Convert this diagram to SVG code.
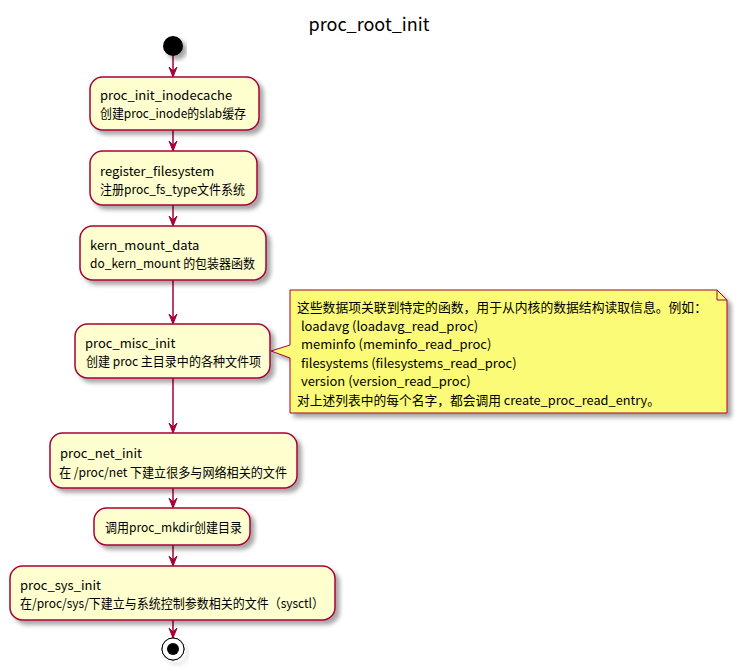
<svg xmlns="http://www.w3.org/2000/svg" width="738" height="672" viewBox="0 0 738 672">
<style>
  text { font-family: "Noto Sans CJK SC", "Noto Sans", sans-serif; font-size: 13px; fill: #000; }
  .title { font-size: 18px; }
  .act { fill: #FEFECE; stroke: #A80036; stroke-width: 1.5; filter: url(#shadow); }
  .note { fill: #FBFB77; stroke: #A80036; stroke-width: 1; filter: url(#shadow); }
  .edge { stroke: #A80036; stroke-width: 1.5; fill: none; }
  .head { fill: #A80036; stroke: #A80036; stroke-width: 1; }
</style>
<defs>
  <filter id="shadow" x="-10%" y="-10%" width="130%" height="140%">
    <feGaussianBlur in="SourceAlpha" stdDeviation="2"/>
    <feOffset dx="4" dy="4" result="b"/>
    <feColorMatrix in="b" type="matrix" values="0 0 0 0 0  0 0 0 0 0  0 0 0 0 0  0 0 0 0.35 0" result="s"/>
    <feMerge><feMergeNode in="s"/><feMergeNode in="SourceGraphic"/></feMerge>
  </filter>
</defs>
<rect width="738" height="672" fill="#FFFFFF"/>
<text class="title" x="369" y="31" text-anchor="middle">proc_root_init</text>

<g id="connectors">
  <line class="edge" x1="173" y1="56" x2="173" y2="76"/>
  <polygon class="head" points="169,67 173,77 177,67 173,71"/>
  <line class="edge" x1="173" y1="130" x2="173" y2="150"/>
  <polygon class="head" points="169,141 173,151 177,141 173,145"/>
  <line class="edge" x1="173" y1="205" x2="173" y2="225"/>
  <polygon class="head" points="169,216 173,226 177,216 173,220"/>
  <line class="edge" x1="173" y1="280" x2="173" y2="323"/>
  <polygon class="head" points="169,314 173,324 177,314 173,318"/>
  <line class="edge" x1="173" y1="378" x2="173" y2="432"/>
  <polygon class="head" points="169,423 173,433 177,423 173,427"/>
  <line class="edge" x1="173" y1="488" x2="173" y2="507"/>
  <polygon class="head" points="169,498 173,508 177,498 173,502"/>
  <line class="edge" x1="173" y1="545" x2="173" y2="565"/>
  <polygon class="head" points="169,556 173,566 177,556 173,560"/>
  <line class="edge" x1="173" y1="620" x2="173" y2="637"/>
  <polygon class="head" points="169,628 173,638 177,628 173,632"/>
</g>

<g id="start">
  <circle cx="173" cy="46" r="10" fill="#000" filter="url(#shadow)"/>
</g>

<g id="proc_init_inodecache">
  <rect class="act" x="90" y="77" width="169" height="53" rx="12.5"/>
  <text x="100" y="100">proc_init_inodecache</text>
  <text x="100" y="118" textLength="146" lengthAdjust="spacingAndGlyphs">创建proc_inode的slab缓存</text>
</g>

<g id="register_filesystem">
  <rect class="act" x="90" y="151" width="167" height="54" rx="12.5"/>
  <text x="100" y="176">register_filesystem</text>
  <text x="100" y="194" textLength="145" lengthAdjust="spacingAndGlyphs">注册proc_fs_type文件系统</text>
</g>

<g id="kern_mount_data">
  <rect class="act" x="80" y="226" width="186" height="54" rx="12.5"/>
  <text x="90" y="250">kern_mount_data</text>
  <text x="90" y="268" textLength="165" lengthAdjust="spacingAndGlyphs">do_kern_mount 的包装器函数</text>
</g>

<g id="proc_misc_init">
  <rect class="act" x="75" y="324" width="195" height="54" rx="12.5"/>
  <text x="85" y="348">proc_misc_init</text>
  <text x="86" y="366" textLength="175" lengthAdjust="spacingAndGlyphs">创建 proc 主目录中的各种文件项</text>
</g>

<g id="note_misc">
  <path class="note" d="M290,290 L717,290 L727,300 L727,413 L290,413 L290,358 L271,351 L290,345 Z"/>
  <path d="M717,290 L717,300 L727,300" fill="none" stroke="#A80036" stroke-width="1"/>
  <text x="297" y="312" textLength="410" lengthAdjust="spacingAndGlyphs">这些数据项关联到特定的函数，用于从内核的数据结构读取信息。例如：</text>
  <text x="298" y="330.5" xml:space="preserve"> loadavg (loadavg_read_proc)</text>
  <text x="298" y="349" xml:space="preserve"> meminfo (meminfo_read_proc)</text>
  <text x="298" y="367.5" xml:space="preserve"> filesystems (filesystems_read_proc)</text>
  <text x="298" y="386" xml:space="preserve"> version (version_read_proc)</text>
  <text x="297" y="405" textLength="363" lengthAdjust="spacingAndGlyphs">对上述列表中的每个名字，都会调用 create_proc_read_entry。</text>
</g>

<g id="proc_net_init">
  <rect class="act" x="50" y="433" width="247" height="55" rx="12.5"/>
  <text x="60" y="458">proc_net_init</text>
  <text x="59" y="477" textLength="228" lengthAdjust="spacingAndGlyphs">在 /proc/net 下建立很多与网络相关的文件</text>
</g>

<g id="proc_mkdir">
  <rect class="act" x="94" y="508" width="156" height="37" rx="12.5"/>
  <text x="105" y="532" textLength="137" lengthAdjust="spacingAndGlyphs">调用proc_mkdir创建目录</text>
</g>

<g id="proc_sys_init">
  <rect class="act" x="10" y="566" width="325" height="54" rx="12.5"/>
  <text x="20" y="590">proc_sys_init</text>
  <text x="20" y="608" textLength="304" lengthAdjust="spacingAndGlyphs">在/proc/sys/下建立与系统控制参数相关的文件（sysctl）</text>
</g>

<g id="end">
  <circle cx="173" cy="649" r="11" fill="none" stroke="#000" stroke-width="1" filter="url(#shadow)"/>
  <circle cx="173" cy="649" r="11" fill="#FFFFFF" stroke="#000" stroke-width="1"/>
  <circle cx="173" cy="649" r="6" fill="#000"/>
</g>
</svg>
